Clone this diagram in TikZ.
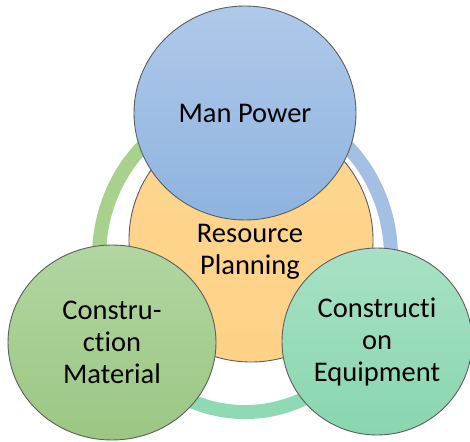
\documentclass[tikz,border=0pt]{standalone}
\usepackage{fontspec}
\setmainfont{Carlito}[Ligatures={NoCommon,NoDiscretionary}]
\usetikzlibrary{shapes.geometric}

\definecolor{ringgreen}{HTML}{A9D18E}
\definecolor{ringblue}{HTML}{A3C0E4}
\definecolor{ringteal}{HTML}{8FDAB5}
\definecolor{outline}{HTML}{5E5E5E}
\definecolor{orangetop}{HTML}{FFD68F}
\definecolor{orangebot}{HTML}{FDD287}
\definecolor{bluetop}{HTML}{AFC9E9}
\definecolor{bluebot}{HTML}{8EB3E0}
\definecolor{greentop}{HTML}{B2D5A2}
\definecolor{greenbot}{HTML}{9BC782}
\definecolor{tealtop}{HTML}{A8E1C5}
\definecolor{tealbot}{HTML}{88D6AF}

\tikzset{
  bubble/.style={ellipse, draw=outline, line width=0.9pt, inner sep=0pt,
    align=center, text=black, font=\fontsize{28.5}{32}\selectfont},
  ringarc/.style={line width=14pt},
}

\begin{document}
\begin{tikzpicture}[x=1pt,y=1pt]
\useasboundingbox (0,0) rectangle (470,441);

% ring behind the circles, in three coloured arcs
\coordinate (ringc) at (245,184);
\draw[ringarc, ringgreen] ([shift={(90:146pt and 155pt)}]ringc)
  arc[start angle=90, end angle=200, x radius=146pt, y radius=155pt];
\draw[ringarc, ringteal] ([shift={(200:146pt and 155pt)}]ringc)
  arc[start angle=200, end angle=340, x radius=146pt, y radius=155pt];
\draw[ringarc, ringblue] ([shift={(-20:146pt and 155pt)}]ringc)
  arc[start angle=-20, end angle=90, x radius=146pt, y radius=155pt];

% central circle
\node[bubble, minimum width=244pt, minimum height=244pt,
  top color=orangetop, bottom color=orangebot] (center) at (251,201) {};
\node[font=\fontsize{28.5}{32}\selectfont, align=center, inner sep=0pt]
  (centerlabel) at (250,189) {Resource\\Planning};

% outer circles
\node[bubble, minimum width=222pt, minimum height=214pt,
  top color=bluetop, bottom color=bluebot] (man) at (245,328) {Man Power};
\node[bubble, minimum width=208pt, minimum height=195pt,
  top color=greentop, bottom color=greenbot] (material) at (112,98.5)
  {Constru-\\ction\\Material};
\node[bubble, minimum width=190pt, minimum height=187pt,
  top color=tealtop, bottom color=tealbot] (equip) at (377,99.5)
  {Constructi\\on\\Equipment};
\end{tikzpicture}
\end{document}
